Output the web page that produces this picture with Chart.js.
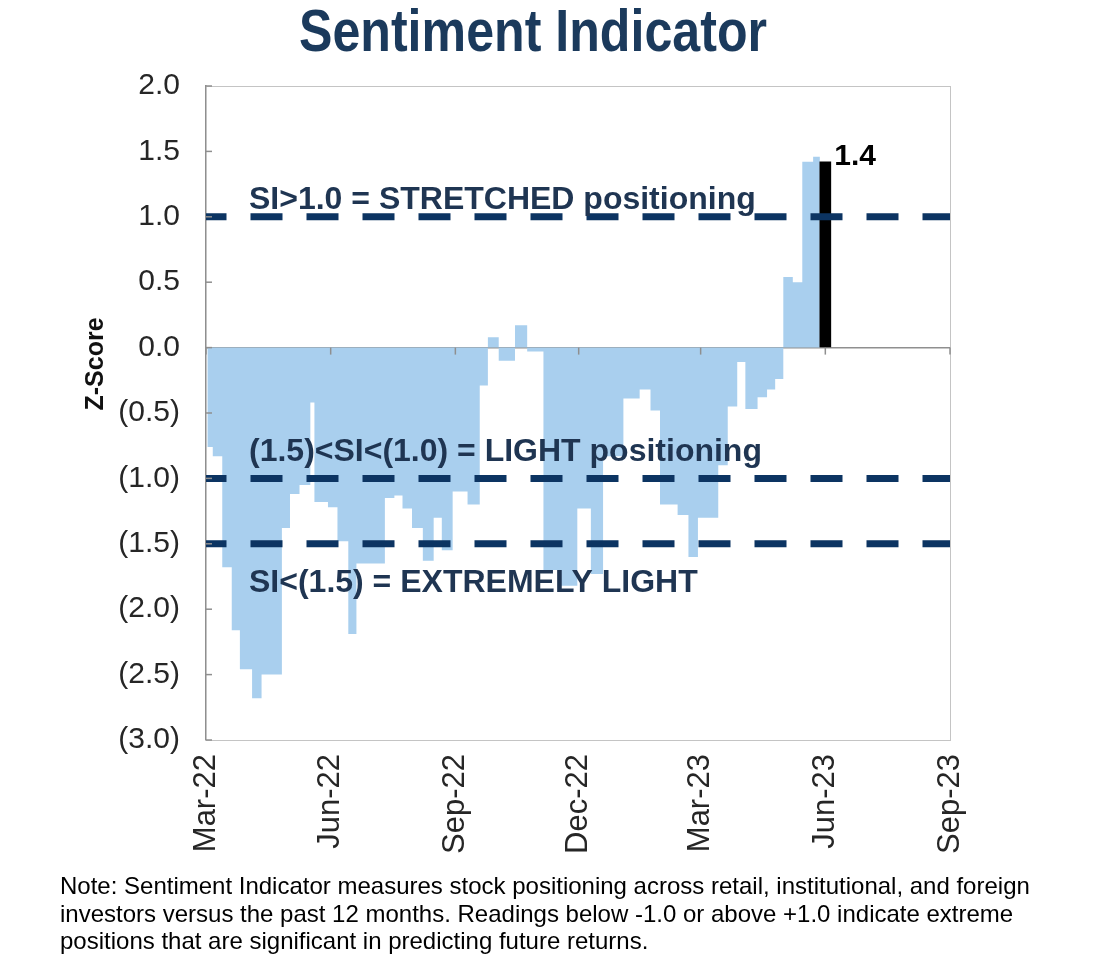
<!DOCTYPE html>
<html><head><meta charset="utf-8">
<script src="https://cdn.jsdelivr.net/npm/chart.js@4.4.0/dist/chart.umd.min.js"></script>
<style>
html,body{margin:0;padding:0;background:#fff;width:1100px;height:967px;overflow:hidden;}
#wrap{position:relative;width:1100px;height:967px;}
#c{position:absolute;left:0;top:0;}
#title{position:absolute;left:0;width:1066px;top:2px;text-align:center;font-family:"Liberation Sans",Arial,sans-serif;font-weight:bold;font-size:59px;line-height:59px;color:#1b3a5c;transform:scaleX(0.85);transform-origin:533px 0;white-space:nowrap;}
#note{position:absolute;left:60px;top:872px;font-family:"Liberation Sans",Arial,sans-serif;font-size:24px;line-height:27.5px;color:#000;white-space:nowrap;}
</style></head>
<body>
<div id="wrap">
<canvas id="c" width="1100" height="967"></canvas>
<div id="title">Sentiment Indicator</div>
<div id="note">Note: Sentiment Indicator measures stock positioning across retail, institutional, and foreign<br>investors versus the past 12 months. Readings below -1.0 or above +1.0 indicate extreme<br>positions that are significant in predicting future returns.</div>
</div>
<script>
// ---- data ----
const startDate = '2022-03-01';
const tickDates = ['2022-03-01','2022-06-01','2022-09-01','2022-12-01','2023-03-01','2023-06-01','2023-09-01'];
const tickLabels = ['Mar-22','Jun-22','Sep-22','Dec-22','Mar-23','Jun-23','Sep-23'];
// dates where the indicator changes level (each value holds until the next date)
const stepDates = ['2022-03-02','2022-03-06','2022-03-13','2022-03-20','2022-03-26','2022-04-04','2022-04-11','2022-04-26',
  '2022-05-02','2022-05-09','2022-05-17','2022-05-20','2022-05-30','2022-06-06','2022-06-14','2022-06-20',
  '2022-07-11','2022-07-18','2022-07-24','2022-07-31','2022-08-08','2022-08-16','2022-08-22','2022-08-30',
  '2022-09-10','2022-09-19','2022-09-25','2022-10-03','2022-10-15','2022-10-24','2022-11-05','2022-11-17',
  '2022-11-30','2022-12-10','2022-12-19','2023-01-03','2023-01-15','2023-01-23','2023-01-30','2023-02-12',
  '2023-02-20','2023-02-27','2023-03-14','2023-03-21','2023-03-28','2023-04-03','2023-04-12','2023-04-19',
  '2023-04-25','2023-05-01','2023-05-08','2023-05-15','2023-05-23','2023-05-28'];
const stepValues = [-0.76,-0.83,-1.68,-2.16,-2.46,-2.68,-2.50,-1.38,
  -1.12,-1.05,-0.42,-1.18,-1.22,-1.48,-2.19,-1.65,
  -1.15,-1.13,-1.23,-1.38,-1.63,-1.30,-1.55,-1.10,
  -1.20,-0.29,0.08,-0.10,0.17,-0.03,-1.70,-1.82,
  -1.23,-1.73,-0.83,-0.39,-0.32,-0.48,-1.20,-1.28,
  -1.60,-1.30,-0.90,-0.45,-0.11,-0.47,-0.38,-0.32,
  -0.24,0.54,0.50,1.42,1.46,1.46];
const latestDate = '2023-06-01';
const latestValue = 1.42;
const latestLabel = '1.4';
const thresholds = [1.0, -1.0, -1.5];
const thresholdTexts = ['SI>1.0 = STRETCHED positioning','(1.5)<SI<(1.0) = LIGHT positioning','SI<(1.5) = EXTREMELY LIGHT'];
const yTicks = [2.0,1.5,1.0,0.5,0.0,-0.5,-1.0,-1.5,-2.0,-2.5,-3.0];

// ---- helpers ----
const dayOf = d => (Date.parse(d) - Date.parse(startDate)) / 86400000;
const tickDays = tickDates.map(dayOf);
const xMax = tickDays[tickDays.length - 1];
const stepData = stepDates.map((d, i) => ({x: dayOf(d), y: stepValues[i]}));
const fmt = v => { const a = Math.abs(v).toFixed(1); return v < -1e-9 ? '(' + a + ')' : a; };

const NAVY = '#0c3462';
const TXT = '#1f3552';

const thresholdSets = thresholds.map(t => ({
  type: 'line', data: [{x: 0, y: t}, {x: xMax, y: t}],
  borderColor: NAVY, borderWidth: 7, borderDash: [32, 24], borderDashOffset: 11.5,
  pointRadius: 0, fill: false, order: 0
}));

const deco = {
  id: 'deco',
  beforeDatasetsDraw(chart) {
    const {ctx, chartArea: a} = chart;
    ctx.save();
    ctx.strokeStyle = '#c4c4c4'; ctx.lineWidth = 1;
    ctx.strokeRect(a.left + 0.5, a.top + 0.5, a.right - a.left, a.bottom - a.top);
    ctx.restore();
  },
  afterDatasetsDraw(chart) {
    const {ctx, chartArea: a, scales: {x, y}} = chart;
    ctx.save();
    ctx.strokeStyle = '#8f8f8f'; ctx.lineWidth = 1.5;
    const y0 = y.getPixelForValue(0);
    tickDays.forEach(d => { const px = x.getPixelForValue(d); ctx.beginPath(); ctx.moveTo(px, y0); ctx.lineTo(px, y0 + 7); ctx.stroke(); });
    yTicks.forEach(v => { const py = y.getPixelForValue(v); ctx.beginPath(); ctx.moveTo(a.left, py); ctx.lineTo(a.left + 6, py); ctx.stroke(); });
    ctx.fillStyle = TXT; ctx.font = 'bold 32px "Liberation Sans", Arial, sans-serif';
    ctx.textBaseline = 'alphabetic'; ctx.textAlign = 'left';
    const offs = [-8, -17, 48];
    thresholdTexts.forEach((t, i) => ctx.fillText(t, 249, y.getPixelForValue(thresholds[i]) + offs[i]));
    ctx.fillStyle = '#000'; ctx.font = 'bold 30px "Liberation Sans", Arial, sans-serif';
    ctx.textBaseline = 'middle';
    ctx.fillText(latestLabel, x.getPixelForValue(dayOf(latestDate)) + 9, y.getPixelForValue(latestValue) - 5);
    ctx.translate(96, 364); ctx.rotate(-Math.PI / 2);
    ctx.textAlign = 'center'; ctx.fillStyle = '#111';
    ctx.font = 'bold 25px "Liberation Sans", Arial, sans-serif';
    ctx.fillText('Z-Score', 0, 0);
    ctx.restore();
  }
};

new Chart(document.getElementById('c'), {
  type: 'line',
  data: {
    datasets: [
      ...thresholdSets,
      { type: 'bar', data: [{x: dayOf(latestDate), y: latestValue}], backgroundColor: '#000', barThickness: 11, order: 1 },
      { type: 'line', data: stepData, stepped: 'before', fill: 'origin', backgroundColor: '#a9cfee',
        borderColor: 'rgba(0,0,0,0)', borderWidth: 0, pointRadius: 0, order: 2 }
    ]
  },
  options: {
    responsive: false, animation: false, devicePixelRatio: 1,
    layout: { padding: { top: 86, right: 150, left: 0, bottom: 0 } },
    plugins: { legend: { display: false }, tooltip: { enabled: false } },
    scales: {
      x: {
        type: 'linear', min: 0, max: xMax, offset: false,
        afterBuildTicks: s => { s.ticks = tickDays.map(v => ({value: v})); },
        afterFit: s => { s.height = 227; },
        grid: { display: false, drawTicks: false },
        border: { color: '#c4c4c4', width: 1 },
        ticks: { autoSkip: false, minRotation: 90, maxRotation: 90, padding: 14, color: '#262626',
          font: { family: '"Liberation Sans", Arial, sans-serif', size: 31 },
          callback: (v, i) => tickLabels[i] }
      },
      y: {
        min: -3, max: 2,
        afterBuildTicks: s => { s.ticks = yTicks.map(v => ({value: v})); },
        afterFit: s => { s.width = 206; },
        grid: { drawTicks: false, lineWidth: 1.5, color: c => (c.tick && Math.abs(c.tick.value) < 1e-9) ? '#8f8f8f' : 'rgba(0,0,0,0)' },
        border: { color: '#8f8f8f', width: 1.5 },
        ticks: { padding: 26, color: '#262626', font: { family: '"Liberation Sans", Arial, sans-serif', size: 30 },
          callback: v => fmt(v) }
      }
    }
  },
  plugins: [deco]
});
</script>
</body></html>
